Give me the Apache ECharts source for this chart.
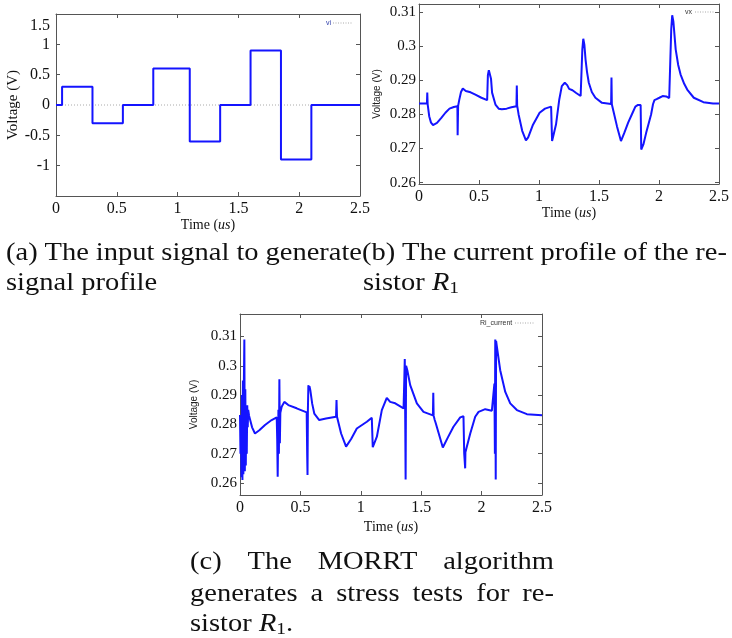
<!DOCTYPE html>
<html>
<head>
<meta charset="utf-8">
<title>ECharts</title>
<script src="https://cdn.jsdelivr.net/npm/echarts@6/dist/echarts.min.js"></script>
<style>body{margin:0;background:#fff;}</style>
</head>
<body>
<div id="main" style="width:732px;height:638px;"></div>
<script>
// tick values
var timeTicks = [0, 0.5, 1, 1.5, 2, 2.5];
var viTicks = [-1.5, -1, -0.5, 0, 0.5, 1, 1.5];
var voltTicks = [0.26, 0.27, 0.28, 0.29, 0.3, 0.31];

// (a) input signal: level held from each time until the next
var viTime = [0, 0.05, 0.3, 0.55, 0.8, 1.1, 1.35, 1.6, 1.85, 2.1, 2.5];
var viLevel = [0, 0.3, -0.3, 0, 0.6, -0.6, 0, 0.9, -0.9, 0, 0];

// (b) vx  [time us, volt]
var vxCurve = [
  [0, 0.2832], [0.066, 0.2832], [0.069, 0.2864], [0.072, 0.2830], [0.085, 0.2795],
  [0.1, 0.2776], [0.117, 0.2769], [0.15, 0.2775], [0.186, 0.279], [0.22, 0.2805],
  [0.254, 0.2817], [0.29, 0.2822], [0.32, 0.2824], [0.322, 0.2739], [0.326, 0.2825],
  [0.335, 0.2842], [0.35, 0.2866], [0.365, 0.2876], [0.377, 0.2878], [0.39, 0.2869],
  [0.404, 0.2866], [0.43, 0.2865], [0.47, 0.2858], [0.52, 0.2849], [0.568, 0.2842],
  [0.574, 0.2915], [0.582, 0.2930], [0.59, 0.2928], [0.6, 0.2905], [0.609, 0.2864],
  [0.637, 0.2829], [0.664, 0.2817], [0.69, 0.2815], [0.73, 0.2817], [0.77, 0.2821],
  [0.812, 0.2824], [0.815, 0.2885], [0.818, 0.2826], [0.83, 0.2800], [0.86, 0.2752],
  [0.891, 0.2724], [0.91, 0.2733], [0.95, 0.2770], [1.005, 0.2805], [1.05, 0.2817],
  [1.101, 0.2823], [1.109, 0.2722], [1.12, 0.2738], [1.142, 0.2771], [1.169, 0.2844],
  [1.19, 0.2883], [1.215, 0.2893], [1.235, 0.2886], [1.251, 0.2875], [1.279, 0.2871],
  [1.31, 0.2863], [1.347, 0.2854], [1.355, 0.2856], [1.361, 0.2990], [1.369, 0.3022],
  [1.378, 0.3005], [1.388, 0.2961], [1.4, 0.2925], [1.415, 0.2893], [1.44, 0.2866],
  [1.47, 0.2849], [1.525, 0.2834], [1.601, 0.2831], [1.604, 0.2908], [1.607, 0.2830],
  [1.62, 0.2810], [1.65, 0.2765], [1.683, 0.2722], [1.71, 0.2745], [1.743, 0.2776],
  [1.78, 0.2805], [1.803, 0.2823], [1.825, 0.2828], [1.847, 0.2828], [1.852, 0.2697],
  [1.87, 0.2712], [1.893, 0.2746], [1.915, 0.2775], [1.934, 0.2800], [1.95, 0.2830],
  [1.962, 0.2842], [1.98, 0.2845], [2.003, 0.2849], [2.03, 0.2854], [2.06, 0.2853],
  [2.085, 0.2848], [2.096, 0.2849], [2.102, 0.3050], [2.11, 0.3091], [2.12, 0.3072],
  [2.139, 0.2991], [2.16, 0.2945], [2.18, 0.2917], [2.21, 0.2890], [2.235, 0.2873],
  [2.29, 0.2849], [2.37, 0.2836], [2.45, 0.2832], [2.5, 0.2832]
];

// (c) Ri_current  [time us, volt]
var riCurve = [
  [0, 0.2832], [0.004, 0.2700], [0.008, 0.2830], [0.012, 0.2620], [0.016, 0.2900],
  [0.020, 0.2610], [0.024, 0.2950], [0.028, 0.2630], [0.032, 0.2940], [0.036, 0.3090],
  [0.040, 0.2640], [0.044, 0.2920], [0.048, 0.2660], [0.052, 0.2865], [0.056, 0.2700],
  [0.060, 0.2865], [0.064, 0.2790], [0.068, 0.2850], [0.075, 0.2830], [0.083, 0.2826],
  [0.1, 0.2790], [0.124, 0.2769], [0.16, 0.2780], [0.207, 0.2798], [0.262, 0.2815],
  [0.304, 0.2824], [0.308, 0.2750], [0.312, 0.2621], [0.318, 0.2850], [0.322, 0.2700],
  [0.326, 0.2954], [0.330, 0.2736], [0.334, 0.2840], [0.345, 0.2860], [0.367, 0.2877],
  [0.4, 0.2866], [0.469, 0.2855], [0.552, 0.2841], [0.556, 0.2700], [0.559, 0.2627],
  [0.562, 0.2850], [0.566, 0.2934], [0.570, 0.2920], [0.575, 0.2930], [0.582, 0.2917],
  [0.598, 0.2870], [0.615, 0.2837], [0.656, 0.2815], [0.712, 0.2820], [0.795, 0.2826],
  [0.799, 0.2883], [0.803, 0.2826], [0.837, 0.2769], [0.878, 0.2724], [0.92, 0.2750],
  [0.967, 0.2786], [1.05, 0.2809], [1.091, 0.2823], [1.099, 0.2722], [1.133, 0.2758],
  [1.174, 0.2849], [1.215, 0.2891], [1.243, 0.2877], [1.285, 0.2872], [1.354, 0.2855],
  [1.360, 0.2950], [1.364, 0.3023], [1.368, 0.2800], [1.371, 0.2612], [1.375, 0.3000],
  [1.385, 0.2985], [1.409, 0.2934], [1.464, 0.2872], [1.519, 0.2843], [1.597, 0.2831],
  [1.600, 0.2908], [1.603, 0.2830], [1.612, 0.2815], [1.62, 0.2805], [1.679, 0.2721],
  [1.72, 0.2755], [1.767, 0.2792], [1.823, 0.2824], [1.85, 0.2828], [1.856, 0.2701],
  [1.864, 0.2650], [1.866, 0.2705], [1.906, 0.2769], [1.947, 0.2826], [1.975, 0.2843],
  [2.03, 0.2852], [2.085, 0.2847], [2.100, 0.2850], [2.106, 0.2939], [2.110, 0.2700],
  [2.113, 0.3090], [2.117, 0.2612], [2.120, 0.3085], [2.125, 0.3070], [2.154, 0.2985],
  [2.196, 0.2911], [2.237, 0.2872], [2.292, 0.2849], [2.375, 0.2835], [2.5, 0.2831]
];

var capA1 = ['(a)', 'The', 'input', 'signal', 'to', 'generate'];
var capA2 = 'signal profile';
var capB1 = ['(b)', 'The', 'current', 'profile', 'of', 'the', 're-'];
var capC1 = ['(c)', 'The', 'MORRT', 'algorithm'];
var capC2 = ['generates', 'a', 'stress', 'tests', 'for', 're-'];

var myChart = echarts.init(document.getElementById('main'));

var SERIF = '"Liberation Serif", "DejaVu Serif", serif';
var SANS = '"Liberation Sans", Arial, sans-serif';
var boxColor = '#555';
var blue = '#1414ff';

function num(v) { return String(+v.toFixed(2)); }

function xAxes(gi, nameGap) {
  return [{
    type: 'value', gridIndex: gi, position: 'bottom', min: 0, max: 2.5, interval: 0.5,
    axisLine: { show: true, onZero: false, lineStyle: { color: boxColor, width: 1 } },
    axisTick: { show: true, inside: true, length: 4, lineStyle: { color: boxColor } },
    splitLine: { show: false },
    axisLabel: { margin: 5, color: '#111', fontFamily: SERIF, fontSize: 16, formatter: num },
    name: 'Time ({i|us})', nameLocation: 'middle', nameGap: nameGap,
    nameTextStyle: {
      color: '#111', fontFamily: SERIF, fontSize: 14,
      rich: { i: { fontStyle: 'italic', fontFamily: SERIF, fontSize: 14, color: '#111' } }
    }
  }, {
    type: 'value', gridIndex: gi, position: 'top', min: 0, max: 2.5, interval: 0.5,
    axisLine: { show: true, onZero: false, lineStyle: { color: boxColor, width: 1 } },
    axisTick: { show: true, inside: true, length: 4, lineStyle: { color: boxColor } },
    axisLabel: { show: false }, splitLine: { show: false }
  }];
}

function voltAxes(gi, min, max, nameGap) {
  return [{
    type: 'value', gridIndex: gi, position: 'left', min: min, max: max,
    axisLine: { show: true, onZero: false, lineStyle: { color: boxColor, width: 1 } },
    axisTick: { show: true, inside: true, length: 4, customValues: voltTicks, lineStyle: { color: boxColor } },
    splitLine: { show: false },
    axisLabel: { customValues: voltTicks, margin: 3, color: '#111', fontFamily: SERIF, fontSize: 15, formatter: num },
    name: 'Voltage (V)', nameLocation: 'middle', nameRotate: 90, nameGap: nameGap,
    nameTextStyle: { color: '#222', fontFamily: SANS, fontSize: 10 }
  }, {
    type: 'value', gridIndex: gi, position: 'right', min: min, max: max,
    axisLine: { show: true, onZero: false, lineStyle: { color: boxColor, width: 1 } },
    axisTick: { show: true, inside: true, length: 4, customValues: voltTicks, lineStyle: { color: boxColor } },
    axisLabel: { show: false }, splitLine: { show: false }
  }];
}

var viAxes = [{
  type: 'value', gridIndex: 0, position: 'left', min: -1.5, max: 1.5, interval: 0.5,
  axisLine: { show: true, onZero: false, lineStyle: { color: boxColor, width: 1 } },
  axisTick: { show: true, inside: true, length: 4, lineStyle: { color: boxColor } },
  splitLine: { show: false },
  axisLabel: {
    margin: 6, color: '#111', fontFamily: SERIF, fontSize: 16,
    formatter: function (v) {
      if (v === -1.5) return '';
      if (v === 1.5) return '{top|1.5}';
      return num(v);
    },
    rich: { top: { padding: [24, 0, 0, 0], fontFamily: SERIF, fontSize: 16, color: '#111' } }
  },
  name: 'Voltage (V)', nameLocation: 'middle', nameRotate: 90, nameGap: 34,
  nameTextStyle: { color: '#111', fontFamily: SERIF, fontSize: 15 }
}, {
  type: 'value', gridIndex: 0, position: 'right', min: -1.5, max: 1.5, interval: 0.5,
  axisLine: { show: true, onZero: false, lineStyle: { color: boxColor, width: 1 } },
  axisTick: { show: true, inside: true, length: 4, lineStyle: { color: boxColor } },
  axisLabel: { show: false }, splitLine: { show: false }
}];

// caption text helpers
var CAP_SIZE = 25, CAP_SX = 1.14;
var measureCtx = document.createElement('canvas').getContext('2d');
function capWidth(s, size, italic) {
  measureCtx.font = (italic ? 'italic ' : '') + (size || CAP_SIZE) + 'px "Liberation Serif"';
  return measureCtx.measureText(s).width * CAP_SX;
}
function capText(s, x, y, size, italic) {
  return {
    type: 'text', x: x, y: y, scaleX: CAP_SX, silent: true,
    style: {
      text: s, fill: '#111', fontFamily: SERIF, fontSize: size || CAP_SIZE,
      fontStyle: italic ? 'italic' : 'normal',
      align: 'left', verticalAlign: 'middle', textAlign: 'left', textVerticalAlign: 'middle'
    }
  };
}
function justify(words, x0, x1, y) {
  var ws = words.map(function (w) { return capWidth(w); });
  var total = ws.reduce(function (a, b) { return a + b; }, 0);
  var gap = (x1 - x0 - total) / (words.length - 1);
  var out = [], x = x0;
  words.forEach(function (w, i) { out.push(capText(w, x, y)); x += ws[i] + gap; });
  return out;
}
function sistorR1(x, y, tail) {
  var out = [capText('sistor', x, y)];
  var xr = x + capWidth('sistor ');
  out.push(capText('R', xr, y, CAP_SIZE, true));
  var xs = xr + capWidth('R', CAP_SIZE, true);
  out.push(capText('1', xs, y + 6, 17));
  if (tail) out.push(capText(tail, xs + capWidth('1', 17), y));
  return out;
}
function legendMark(label, x, y, lineX0, lineX1, color) {
  return [{
    type: 'text', x: x, y: y, silent: true,
    style: { text: label, fill: color, fontFamily: SANS, fontSize: 7, verticalAlign: 'middle', textVerticalAlign: 'middle' }
  }, {
    type: 'line', silent: true,
    shape: { x1: lineX0, y1: y, x2: lineX1, y2: y },
    style: { stroke: '#aaa', lineWidth: 1, lineDash: [1, 1.5] }
  }];
}

var graphics = [].concat(
  legendMark('vi', 326, 23, 333, 352, '#2a3aa8'),
  legendMark('vx', 685, 12, 695, 714, '#333'),
  legendMark('Ri_current', 480, 323, 515, 534, '#333'),
  justify(capA1, 6, 362, 253),
  [capText(capA2, 6, 283)],
  justify(capB1, 362, 727, 253),
  sistorR1(363, 283, ''),
  justify(capC1, 190, 554, 562),
  justify(capC2, 190, 554, 594),
  sistorR1(190, 624, '.')
);

var viData = viTime.map(function (t, i) { return [t, viLevel[i]]; });

var option = {
  backgroundColor: '#fff',
  animation: false,
  grid: [
    { left: 56, top: 14, width: 304, height: 182, show: false },
    { left: 419, top: 4, width: 305, height: 180, show: false },
    { left: 240, top: 314, width: 302, height: 181, show: false }
  ],
  xAxis: [].concat(xAxes(0, 22), xAxes(1, 22), xAxes(2, 25)),
  yAxis: [].concat(viAxes, voltAxes(1, 0.2596, 0.3124, 37), voltAxes(2, 0.2559, 0.3177, 41)),
  graphic: graphics,
  series: [{
    name: 'vi ref', type: 'line', xAxisIndex: 0, yAxisIndex: 0, silent: true,
    symbol: 'none', data: [[timeTicks[0], 0], [timeTicks[timeTicks.length - 1], 0]],
    lineStyle: { color: '#aaa', width: 1, type: [1, 2] }
  }, {
    name: 'vi', type: 'line', xAxisIndex: 0, yAxisIndex: 0, step: 'end',
    symbol: 'none', data: viData, lineStyle: { color: blue, width: 2 }
  }, {
    name: 'vx', type: 'line', xAxisIndex: 2, yAxisIndex: 2,
    symbol: 'none', data: vxCurve, lineStyle: { color: blue, width: 2 }
  }, {
    name: 'Ri_current', type: 'line', xAxisIndex: 4, yAxisIndex: 4,
    symbol: 'none', data: riCurve, lineStyle: { color: blue, width: 2 }
  }]
};

myChart.setOption(option);
</script>
</body>
</html>
